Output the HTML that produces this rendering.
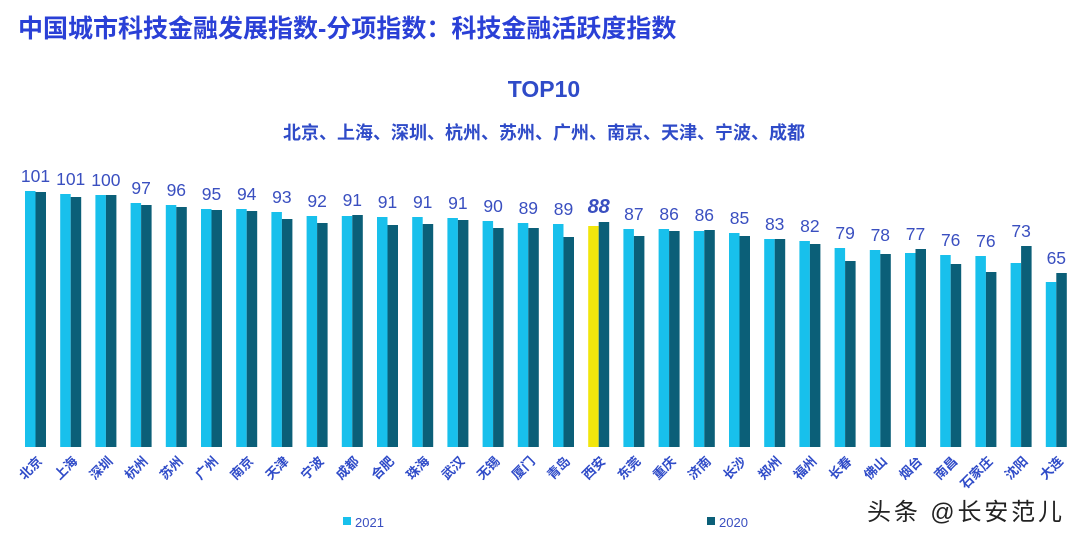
<!DOCTYPE html>
<html><head><meta charset="utf-8"><style>
body{margin:0;background:#fff;width:1080px;height:540px;overflow:hidden;position:relative;font-family:"Liberation Sans","Noto Sans CJK SC",sans-serif}
</style></head><body>
<svg width="1080" height="540" xmlns="http://www.w3.org/2000/svg" style="position:absolute;left:0;top:0">
<text x="18" y="37" font-size="25" font-weight="bold" fill="#2a40d6" font-family="Liberation Sans,Noto Sans CJK SC,sans-serif">中国城市科技金融发展指数-分项指数：科技金融活跃度指数</text>
<text x="544" y="97" font-size="23" font-weight="bold" fill="#2f4bc8" text-anchor="middle" font-family="Liberation Sans,sans-serif">TOP10</text>
<text x="544" y="139" font-size="18" font-weight="bold" fill="#2f4bc8" text-anchor="middle" font-family="Liberation Sans,Noto Sans CJK SC,sans-serif">北京、上海、深圳、杭州、苏州、广州、南京、天津、宁波、成都</text>
<g id="bars"></g>
<rect x="343" y="517" width="8" height="8" fill="#18c0ec"/>
<text x="355" y="527" font-size="13" fill="#3a4fc0" font-family="Liberation Sans,sans-serif">2021</text>
<rect x="707" y="517" width="8" height="8" fill="#0b5f78"/>
<text x="719" y="527" font-size="13" fill="#3a4fc0" font-family="Liberation Sans,sans-serif">2020</text>
<text x="867" y="520" font-size="24" fill="#222" textLength="195" font-family="Liberation Sans,Noto Sans CJK SC,sans-serif">头条 @长安范儿</text>
</svg>
<script>
var c="北京 上海 深圳 杭州 苏州 广州 南京 天津 宁波 成都 合肥 珠海 武汉 无锡 厦门 青岛 西安 东莞 重庆 济南 长沙 郑州 福州 长春 佛山 烟台 南昌 石家庄 沈阳 大连".split(" ");
var v=[101,101,100,97,96,95,94,93,92,91,91,91,91,90,89,89,88,87,86,86,85,83,82,79,78,77,76,76,73,65];
var a=[191,194,195,203,205,209,209,212,216,216,217,217,218,221,223,224,226,229,229,231,233,239,241,248,250,253,255,256,263,282];
var b=[192,197,195,205,207,210,211,219,223,215,225,224,220,228,228,237,222,236,231,230,236,239,244,261,254,249,264,272,246,273];
var s="",B=447;
for(var i=0;i<30;i++){var x=25+i*35.2;
s+='<rect x="'+x+'" y="'+a[i]+'" width="10.5" height="'+(B-a[i])+'" fill="'+(i==16?"#f2e60c":"#18c0ec")+'"/>';
s+='<rect x="'+(x+10.5)+'" y="'+b[i]+'" width="10.5" height="'+(B-b[i])+'" fill="#0b5f78"/>';
var ty=Math.min(a[i],b[i])-9;
s+='<text x="'+(x+10.5)+'" y="'+ty+'" font-size="'+(i==16?20:17.5)+'" '+(i==16?'font-weight="bold" font-style="italic"':'')+' fill="#3a4fc0" text-anchor="middle" font-family="Liberation Sans,sans-serif">'+v[i]+'</text>';
s+='<text transform="translate('+(x+18)+',462) rotate(-45)" font-size="13" font-weight="bold" fill="#2f4bc8" text-anchor="end" font-family="Noto Sans CJK SC,sans-serif">'+c[i]+'</text>';}
document.getElementById("bars").innerHTML=s;
</script>
</body></html>
